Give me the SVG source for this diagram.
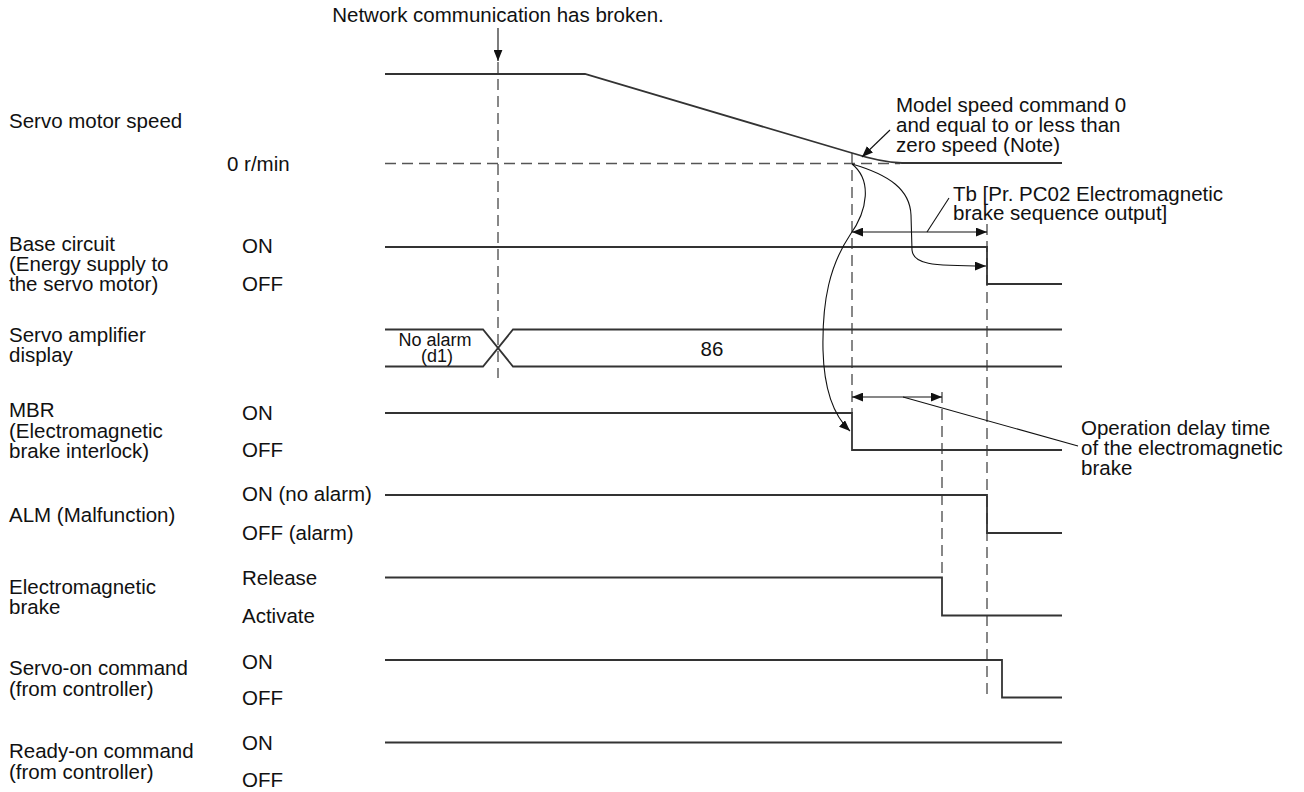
<svg xmlns="http://www.w3.org/2000/svg" width="1304" height="792" viewBox="0 0 1304 792">
<style>
text{font-family:"Liberation Sans",Arial,sans-serif;font-size:20.5px;fill:#111}
.sm{font-size:18px}
.sig{fill:none;stroke:#333;stroke-width:1.8}
.dash{fill:none;stroke:#555;stroke-width:1.4;stroke-dasharray:11 6}
.lead{fill:none;stroke:#111;stroke-width:1.1}
</style>
<defs>
<marker id="ah" viewBox="0 0 10 8" refX="10" refY="4" markerWidth="11" markerHeight="9" markerUnits="userSpaceOnUse" orient="auto-start-reverse">
<path d="M0,0 L10,4 L0,8 Z" fill="#111"/>
</marker>
</defs>
<rect width="1304" height="792" fill="#fff"/>

<g id="event-label">
<text x="498" y="22" text-anchor="middle">Network communication has broken.</text>
</g>

<g id="dashed-guides">
<path class="dash" d="M385,163.5 H900"/>
<path class="dash" d="M498,62 V378"/>
<path class="dash" d="M852,153 V413"/>
<path class="dash" d="M987,224 V695"/>
<path class="dash" d="M942,392 V577"/>
</g>

<g id="row-speed">
<text x="9" y="128">Servo motor speed</text>
<text x="227" y="171">0 r/min</text>
<path class="sig" d="M385,74 H585 L852,153 Q880,162 902,163 H1062"/>
</g>

<g id="row-base">
<text x="9" y="251">Base circuit</text>
<text x="9" y="271">(Energy supply to</text>
<text x="9" y="291">the servo motor)</text>
<text x="242" y="253">ON</text>
<text x="242" y="291">OFF</text>
<path class="sig" d="M385,247 H987 V284 H1062"/>
</g>

<g id="row-display">
<text x="9" y="342">Servo amplifier</text>
<text x="9" y="362">display</text>
<path class="sig" d="M385,329.5 H483 L513,366.5 H1062"/>
<path class="sig" d="M385,366.5 H483 L513,329.5 H1062"/>
<text class="sm" x="435" y="346" text-anchor="middle">No alarm</text>
<text class="sm" x="437" y="362" text-anchor="middle">(d1)</text>
<text x="712" y="355.5" text-anchor="middle">86</text>
</g>

<g id="row-mbr">
<text x="9" y="417">MBR</text>
<text x="9" y="437.5">(Electromagnetic</text>
<text x="9" y="457.5">brake interlock)</text>
<text x="242" y="419.5">ON</text>
<text x="242" y="457">OFF</text>
<path class="sig" d="M385,413 H852 V450 H1062"/>
</g>

<g id="row-alm">
<text x="9" y="522">ALM (Malfunction)</text>
<text x="242" y="501">ON (no alarm)</text>
<text x="242" y="540">OFF (alarm)</text>
<path class="sig" d="M385,495 H987 V533 H1062"/>
</g>

<g id="row-brake">
<text x="9" y="593.5">Electromagnetic</text>
<text x="9" y="613.5">brake</text>
<text x="242" y="585">Release</text>
<text x="242" y="623">Activate</text>
<path class="sig" d="M385,577.5 H942 V615.5 H1062"/>
</g>

<g id="row-servo-on">
<text x="9" y="675">Servo-on command</text>
<text x="9" y="696">(from controller)</text>
<text x="242" y="668.5">ON</text>
<text x="242" y="704.5">OFF</text>
<path class="sig" d="M385,660 H1002 V697.5 H1062"/>
</g>

<g id="row-ready-on">
<text x="9" y="757.5">Ready-on command</text>
<text x="9" y="778.5">(from controller)</text>
<text x="242" y="750">ON</text>
<text x="242" y="786.5">OFF</text>
<path class="sig" d="M385,742.5 H1062"/>
</g>

<g id="note-model-speed">
<text x="896" y="112">Model speed command 0</text>
<text x="896" y="132">and equal to or less than</text>
<text x="896" y="152">zero speed (Note)</text>
</g>

<g id="note-tb">
<text x="953" y="201">Tb [Pr. PC02 Electromagnetic</text>
<text x="953" y="220">brake sequence output]</text>
</g>

<g id="note-delay">
<text x="1081" y="435">Operation delay time</text>
<text x="1081" y="455">of the electromagnetic</text>
<text x="1081" y="475">brake</text>
</g>

<g id="connectors">
<path class="lead" d="M498,28 V61" marker-end="url(#ah)"/>
<path class="lead" d="M890,130 L862,157" marker-end="url(#ah)"/>
<path class="lead" d="M852,232 H987" marker-start="url(#ah)" marker-end="url(#ah)"/>
<path class="lead" d="M927,232 L949,198"/>
<path class="lead" d="M852,397 H942" marker-start="url(#ah)" marker-end="url(#ah)"/>
<path class="lead" d="M903,397 L1078,446"/>
<path class="lead" d="M852,164 C872,180 868,210 850,235 C830,265 822,300 823,350 C824,390 834,416 850,431" marker-end="url(#ah)"/>
<path class="lead" d="M852,164 C890,175 910,190 911,215 L912,250 C913,264 930,266 986,266" marker-end="url(#ah)"/>
</g>
</svg>
